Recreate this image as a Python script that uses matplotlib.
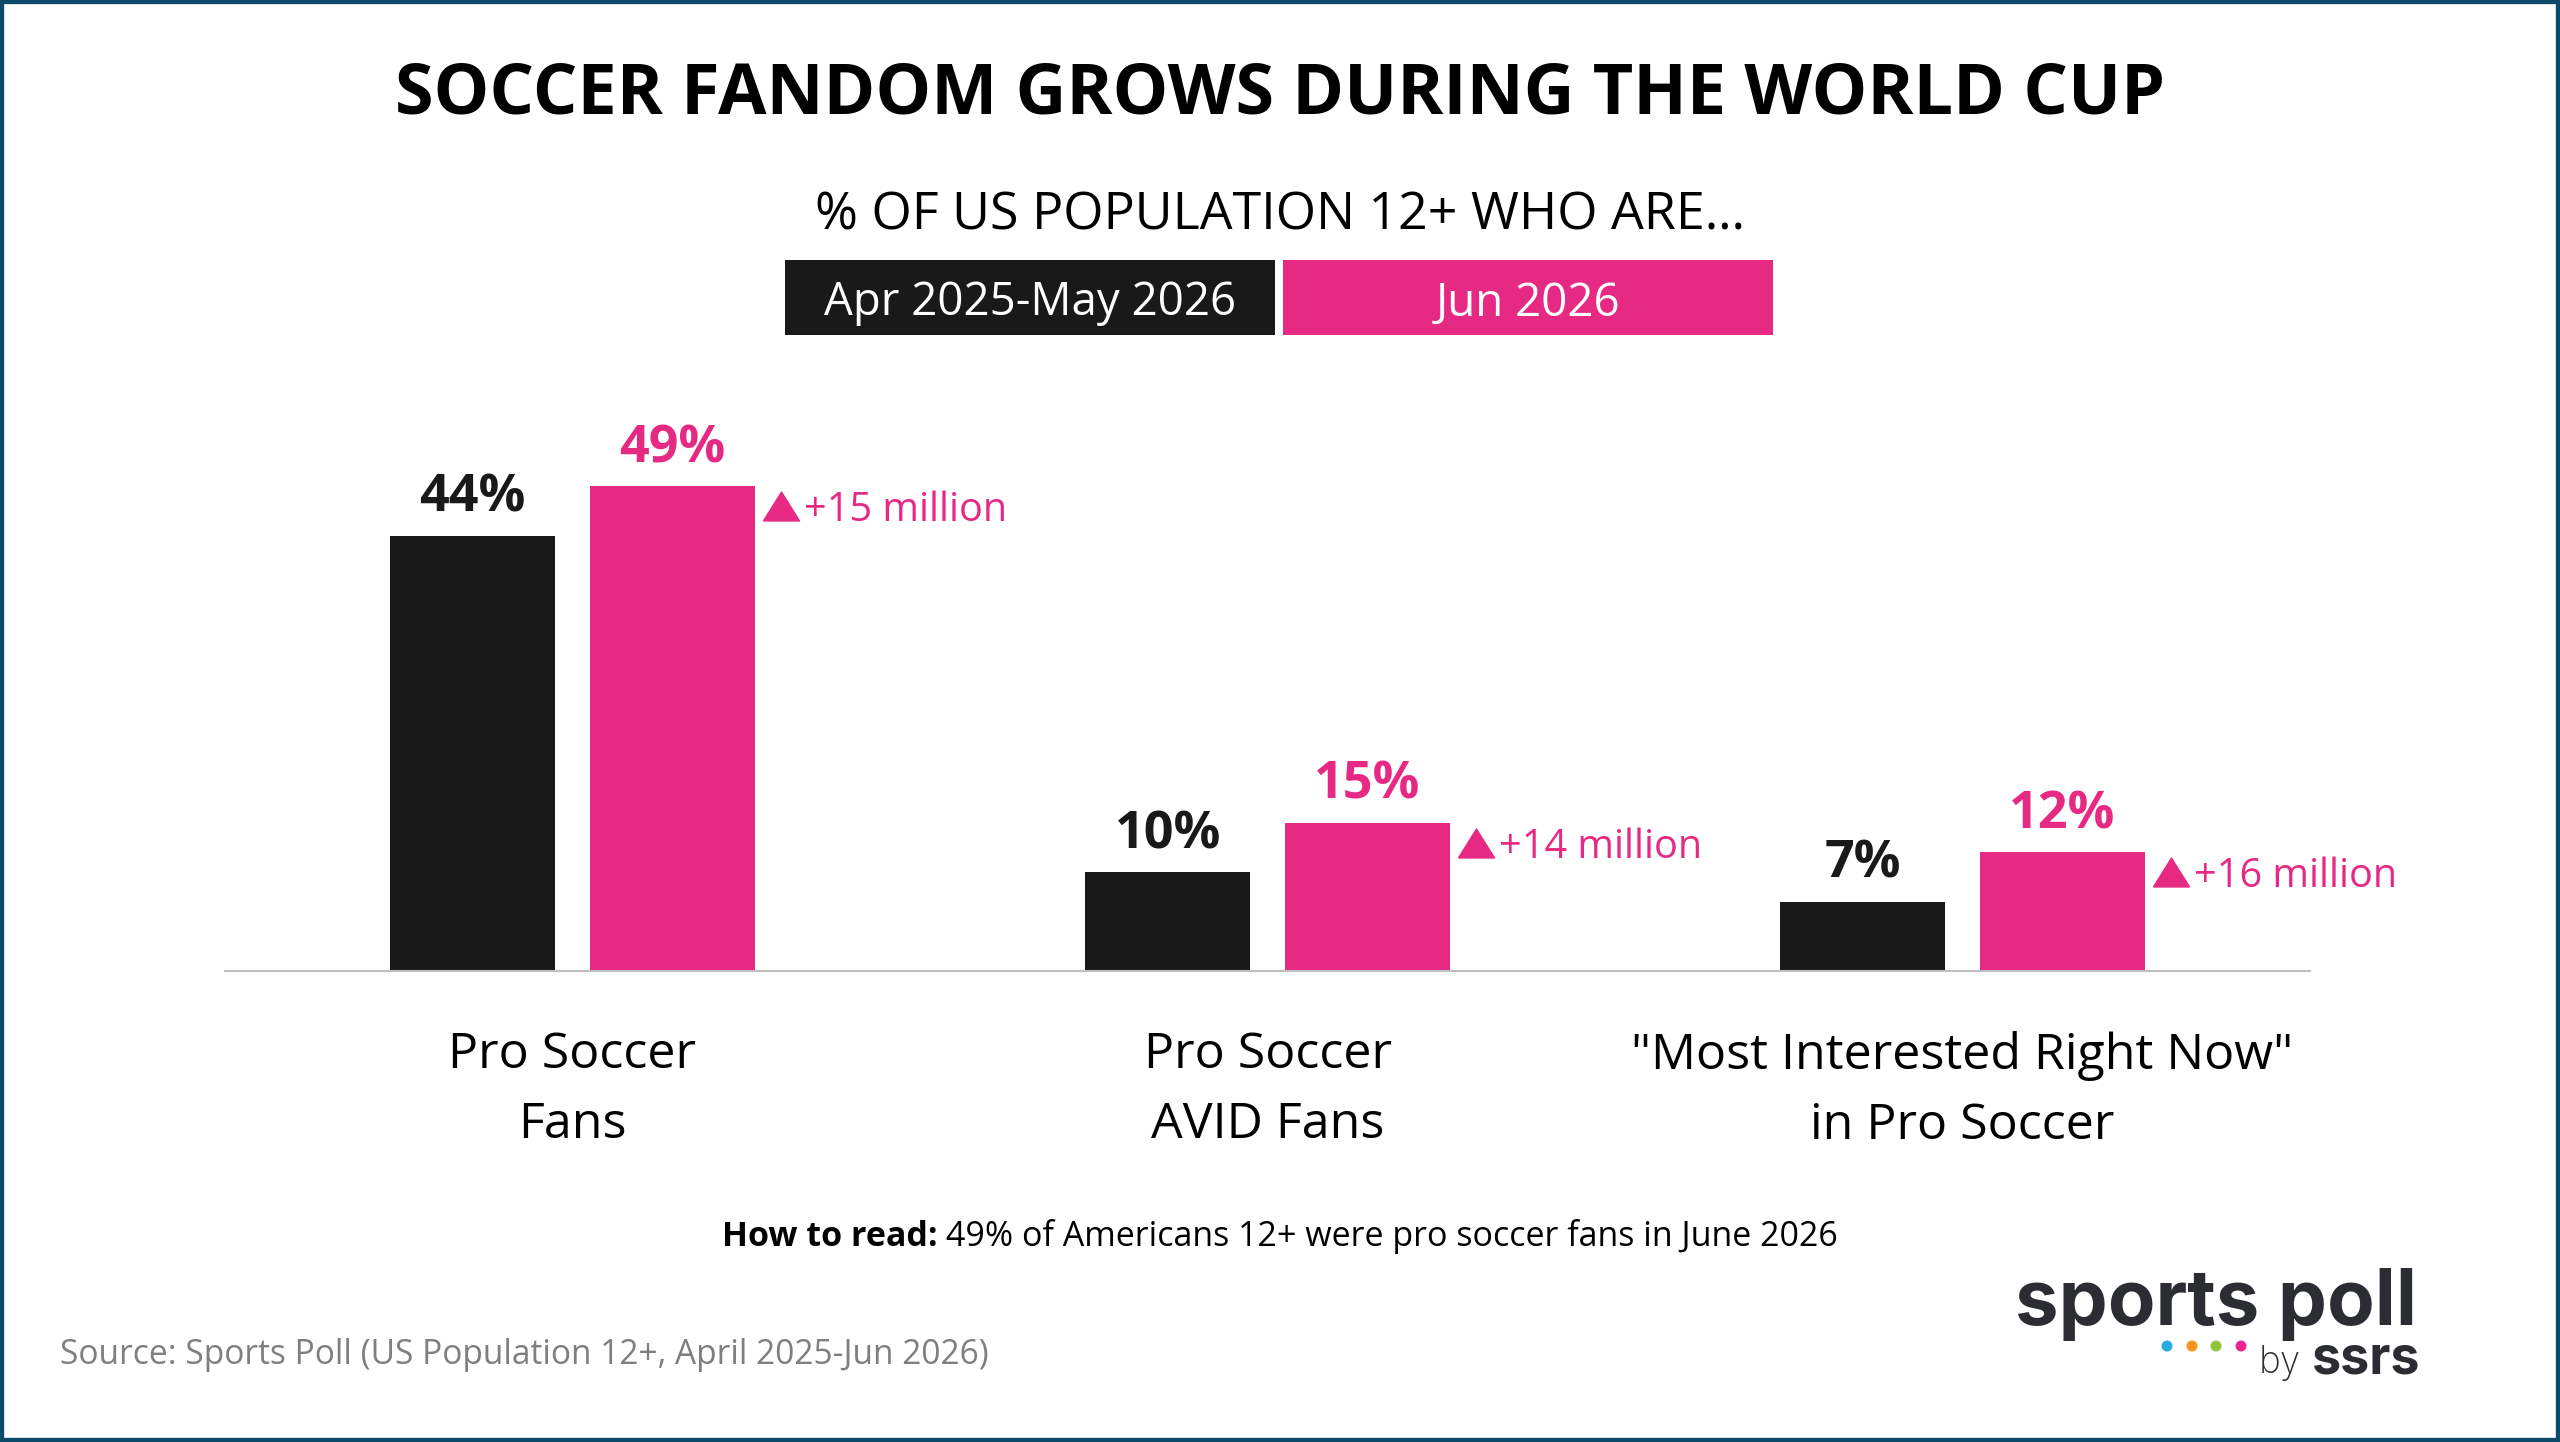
import matplotlib
matplotlib.use('Agg')
import matplotlib.pyplot as plt
from matplotlib.patches import Rectangle, Circle
from matplotlib.transforms import IdentityTransform, offset_copy
import numpy as np

# ---------------- data ----------------
categories = ['Pro Soccer\nFans', 'Pro Soccer\nAVID Fans', '"Most Interested Right Now"\nin Pro Soccer']
period_labels = ['Apr 2025-May 2026', 'Jun 2026']
before = [44, 10, 7]
after = [49, 15, 12]
growth = ['+15 million', '+14 million', '+16 million']
title = 'SOCCER FANDOM GROWS DURING THE WORLD CUP'
subtitle = '% OF US POPULATION 12+ WHO ARE\u2026'
how_bold = 'How to read:'
how_rest = ' 49% of Americans 12+ were pro soccer fans in June 2026'
source = 'Source: Sports Poll (US Population 12+, April 2025-Jun 2026)'

BLACK = '#191919'
PINK = '#E62A84'
BORDER = '#0D4A69'
FONT = ['Open Sans', 'DejaVu Sans']

W, H = 2560, 1442
fig = plt.figure(figsize=(W / 100, H / 100), dpi=100)
fig.patch.set_facecolor('white')
renderer = fig.canvas.get_renderer()


def fx(px):
    return px / W


def fy(py):
    return 1 - py / H


def fit(t, target_px):
    bb = t.get_window_extent(renderer=renderer)
    t.set_fontsize(t.get_fontsize() * target_px / bb.width)
    return t.get_fontsize()


# ---------------- border ----------------
fig.patches.append(Rectangle((0, 0), 1, 1, transform=fig.transFigure, fill=False,
                             edgecolor=BORDER, linewidth=6, zorder=10))

# ---------------- titles ----------------
t = fig.text(0.5, fy(114), title, ha='center', va='baseline', fontsize=50,
             fontweight='bold', family=FONT, color='black')
fit(t, 1770)
t = fig.text(0.5, fy(229), subtitle, ha='center', va='baseline', fontsize=36,
             family=FONT, color='black')
fit(t, 930)

# ---------------- legend boxes ----------------
boxes = [(785, BLACK), (1283, PINK)]
for (left, col), lab in zip(boxes, period_labels):
    fig.patches.append(Rectangle((fx(left), fy(335)), fx(490), 75 / H,
                                 transform=fig.transFigure, facecolor=col,
                                 edgecolor='none'))
    tt = fig.text(fx(left + 245), fy(298), lab, ha='center', va='center_baseline',
                  fontsize=30, family=FONT, color='white')
    if lab == period_labels[0]:
        lsize = fit(tt, 411)
    else:
        tt.set_fontsize(lsize)

# ---------------- axes ----------------
ax = fig.add_axes([fx(225), fy(971), fx(2085), (971 - 400) / H])
ax.set_xlim(-0.5, 2.5)
ax.set_ylim(0, 57.7)
x = np.arange(len(categories))
bw = 0.237
off = 0.1435
ax.bar(x - off, before, width=bw, color=BLACK)
ax.bar(x + off, after, width=bw, color=PINK)

for s in ['top', 'right', 'left']:
    ax.spines[s].set_visible(False)
ax.spines['bottom'].set_color('#BFBFBF')
ax.spines['bottom'].set_linewidth(1.5)
ax.set_yticks([])
ax.set_xticks(x)
ax.set_xticklabels(categories, fontsize=31, family=FONT, color='black', linespacing=1.55)
ax.tick_params(axis='x', length=0, pad=43)

# value labels above bars
val_tr = offset_copy(ax.transData, fig=fig, x=0, y=24, units='dots')
val_size = None
for i in range(len(x)):
    for xpos, v, col in [(x[i] - off, before[i], BLACK), (x[i] + off, after[i], PINK)]:
        a = ax.text(xpos, v, f'{v}%', transform=val_tr, ha='center', va='baseline',
                    fontsize=30, fontweight='bold', family=FONT, color=col)
        if val_size is None:
            val_size = fit(a, 106)
        else:
            a.set_fontsize(val_size)

# growth markers (triangle) and labels
tri = [(-1.0, -0.8), (1.0, -0.8), (0.0, 0.8), (-1.0, -0.8)]
tri_tr = offset_copy(ax.transData, fig=fig, x=26, y=-20, units='dots')
ax.plot(x + off + bw / 2, after, linestyle='none', marker=tri, markersize=26,
        color=PINK, transform=tri_tr, clip_on=False)
g_tr = offset_copy(ax.transData, fig=fig, x=49, y=-35, units='dots')
g_size = None
for i in range(len(x)):
    a = ax.text(x[i] + off + bw / 2, after[i], growth[i], transform=g_tr,
                ha='left', va='baseline', fontsize=26, family=FONT, color=PINK)
    if g_size is None:
        g_size = fit(a, 204)
    else:
        a.set_fontsize(g_size)

# category label size fit on first line width
probe = fig.text(0, 0, 'Pro Soccer', fontsize=31, family=FONT)
csize = fit(probe, 248)
probe.remove()
for lab in ax.get_xticklabels():
    lab.set_fontsize(csize)

# ---------------- how to read ----------------
probe = fig.text(0, 0, how_rest.strip(), fontsize=24, family=FONT)
hsize = fit(probe, 893)
probe.remove()
tb = fig.text(0, fy(1246), how_bold, ha='left', va='baseline', fontsize=hsize,
              fontweight='bold', family=FONT)
tr = fig.text(0, fy(1246), how_rest, ha='left', va='baseline', fontsize=hsize, family=FONT)
wb = tb.get_window_extent(renderer=renderer).width
wr = tr.get_window_extent(renderer=renderer).width
start = (W - (wb + wr)) / 2
tb.set_x(fx(start))
tr.set_x(fx(start + wb))

# ---------------- source ----------------
t = fig.text(fx(60), fy(1364), source, ha='left', va='baseline', fontsize=24,
             family=FONT, color='#7F7F7F')
fit(t, 932)

# ---------------- logo ----------------
LOGO = '#2B2D33'
LFONT = ['Inter', 'Lato', 'DejaVu Sans']
t = fig.text(fx(2015), fy(1325), 'sports poll', ha='left', va='baseline', fontsize=56,
             fontweight='bold', family=LFONT, color=LOGO)
fit(t, 402)
t = fig.text(fx(2420), fy(1373), 'ssrs', ha='right', va='baseline', fontsize=30,
             fontweight='bold', family=LFONT, color=LOGO)
fit(t, 108)
t = fig.text(fx(2259), fy(1373), 'by', ha='left', va='baseline', fontsize=30,
             fontweight='light', family=LFONT, color=LOGO)
fit(t, 42)
for cx, c in zip([2167, 2192, 2216, 2241], ['#29ABE2', '#F7941D', '#8DC63F', '#EC268F']):
    fig.add_artist(Circle((cx, H - 1346), 5.5, transform=IdentityTransform(),
                          facecolor=c, edgecolor='none'))

fig.savefig('out.png', dpi=100, facecolor='white')
